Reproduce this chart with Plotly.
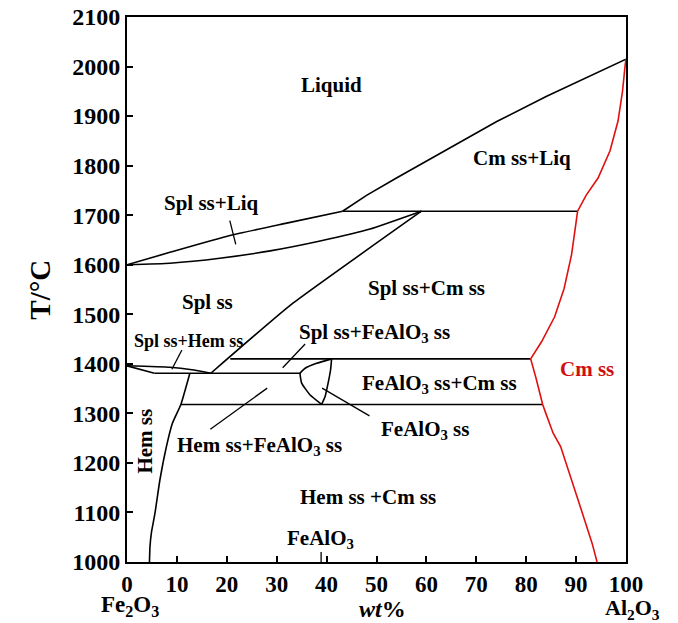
import plotly.graph_objects as go

# ---------------- data (wt% Al2O3, T in °C) ----------------
liq_x = [43.2, 48, 54, 64.1, 74.1, 84.1, 90.8, 100]
liq_T = [1708, 1740, 1775, 1833, 1889, 1940, 1972, 2015]

splliq_up_x = [0, 8.6, 20.6, 32, 43.2]
splliq_up_T = [1600, 1625, 1659, 1684, 1708]
splliq_lo_x = [0, 8.6, 18.6, 28.7, 38.7, 48.7, 59]
splliq_lo_T = [1600, 1603, 1613, 1628, 1648, 1672, 1708]

iso1708_x = [43.2, 90.3]
iso1708_T = [1708, 1708]
iso1410_x = [20.7, 80.9]
iso1410_T = [1410, 1410]
iso1381_x = [5.5, 34.7]
iso1381_T = [1381, 1381]
iso1318_x = [10.8, 83.3]
iso1318_T = [1318, 1318]

splcm_x = [16.8, 32.7, 59]
splcm_T = [1381, 1518, 1708]

lens_up_x = [0, 8.6, 13, 16.8]
lens_up_T = [1396, 1393, 1388, 1381]
lens_lo_x = [0, 5.5]
lens_lo_T = [1396, 1381]

fa_left_x = [41, 38, 35.7, 34.7, 35, 36.7, 39]
fa_left_T = [1410, 1401, 1391, 1381, 1361, 1337, 1318]
fa_right_x = [41, 40.8, 40.3, 39.7, 39]
fa_right_T = [1410, 1388, 1361, 1334, 1318]

hem_x = [12.6, 10.8, 9.1, 7.9, 6.6, 5.6, 4.9, 4.6, 4.5]
hem_T = [1381, 1318, 1280, 1233, 1166, 1098, 1060, 1030, 1000]

cm_x = [100, 99.8, 99.3, 98.4, 96.8, 94.4, 92.0, 90.3, 90.0, 89.1, 87.6, 85.7,
        83.1, 80.9, 82, 83.3, 83.9, 85.4, 86.9, 88.7, 90.2, 91.7, 93.2, 94.2]
cm_T = [2015, 2000, 1950, 1890, 1830, 1775, 1740, 1708, 1686, 1621, 1552, 1495,
        1445, 1410, 1370, 1318, 1301, 1260, 1233, 1179, 1132, 1085, 1038, 1000]

leaders = [
    ([20.6, 21.8], [1689, 1641]),
    ([11, 9], [1428, 1389]),
    ([35.7, 31.2], [1440, 1392]),
    ([28.1, 16.7], [1351, 1268]),
    ([39.1, 48.6], [1351, 1295]),
    ([38.9, 38.9], [1000, 1020]),
]

labels = [
    ("Liquid", 41, 1962, 21, 0, "black"),
    ("Cm ss+Liq", 79.2, 1815, 21, 0, "black"),
    ("Spl ss+Liq", 17, 1725, 21, 0, "black"),
    ("Spl ss", 16.2, 1525, 21, 0, "black"),
    ("Spl ss+Cm ss", 60.1, 1553, 21, 0, "black"),
    ("Spl ss+FeAlO<sub>3</sub> ss", 49.5, 1462, 21, 0, "black"),
    ("Spl ss+Hem ss", 12.4, 1446, 18, 0, "black"),
    ("FeAlO<sub>3</sub> ss+Cm ss", 62.7, 1360, 21, 0, "black"),
    ("Cm ss", 92.2, 1390, 21, 0, "#d01010"),
    ("FeAlO<sub>3</sub> ss", 59.7, 1266, 21, 0, "black"),
    ("Hem ss+FeAlO<sub>3</sub> ss", 26.5, 1234, 21, 0, "black"),
    ("Hem ss", 3.6, 1245, 21, -90, "black"),
    ("Hem ss +Cm ss", 48.3, 1131, 21, 0, "black"),
    ("FeAlO<sub>3</sub>", 38.7, 1046, 21, 0, "black"),
]

x_ticks = [0, 10, 20, 30, 40, 50, 60, 70, 80, 90, 100]
y_ticks = [1000, 1100, 1200, 1300, 1400, 1500, 1600, 1700, 1800, 1900, 2000, 2100]

FONT = "Liberation Serif"
fig = go.Figure()

def line(xs, ys, color="black", width=1.6, smooth=True):
    ln = dict(color=color, width=width)
    if smooth:
        ln.update(shape="spline", smoothing=0.4)
    fig.add_trace(go.Scatter(x=xs, y=ys, mode="lines", line=ln,
                             hoverinfo="skip", showlegend=False))

line(liq_x, liq_T, smooth=False)
for xs, ys in [(splliq_up_x, splliq_up_T), (splliq_lo_x, splliq_lo_T),
               (iso1708_x, iso1708_T), (iso1410_x, iso1410_T), (iso1381_x, iso1381_T),
               (iso1318_x, iso1318_T), (splcm_x, splcm_T), (lens_up_x, lens_up_T),
               (lens_lo_x, lens_lo_T), (fa_left_x, fa_left_T), (fa_right_x, fa_right_T),
               (hem_x, hem_T)]:
    line(xs, ys)
for xs, ys in leaders:
    line(xs, ys, width=1.3, smooth=False)
line(cm_x, cm_T, color="#e01010", width=1.6, smooth=False)

annotations = []
for txt, x, y, size, ang, col in labels:
    annotations.append(dict(x=x, y=y, xref="x", yref="y", text=txt, showarrow=False,
                            textangle=ang, xanchor="center", yanchor="middle",
                            font=dict(family=FONT, size=size, color=col, weight="bold")))

annotations += [
    dict(x=0.006, y=-0.08, xref="paper", yref="paper", text="Fe<sub>2</sub>O<sub>3</sub>",
         showarrow=False, xanchor="center", yanchor="middle",
         font=dict(family=FONT, size=23, color="black", weight="bold")),
    dict(x=0.513, y=-0.086, xref="paper", yref="paper", text="<i>wt</i>%",
         showarrow=False, xanchor="center", yanchor="middle",
         font=dict(family=FONT, size=24, color="black", weight="bold")),
    dict(x=1.014, y=-0.087, xref="paper", yref="paper", text="Al<sub>2</sub>O<sub>3</sub>",
         showarrow=False, xanchor="center", yanchor="middle",
         font=dict(family=FONT, size=22, color="black", weight="bold")),
    dict(x=-0.176, y=0.5, xref="paper", yref="paper", text="T/°C", textangle=-90,
         showarrow=False, xanchor="center", yanchor="middle",
         font=dict(family=FONT, size=29, color="black", weight="bold")),
]

fig.update_layout(
    width=678, height=623,
    margin=dict(l=127, r=52, t=17, b=61, autoexpand=False),
    paper_bgcolor="white", plot_bgcolor="white",
    annotations=annotations,
    xaxis=dict(range=[0, 100], tickvals=x_ticks, ticks="inside", ticklen=6, tickwidth=1.5,
               tickcolor="black", showline=True, linecolor="black", linewidth=2, mirror=True,
               showgrid=False, zeroline=False, automargin=False,
               tickfont=dict(family=FONT, size=23, color="black", weight="bold")),
    yaxis=dict(range=[1000, 2100], tickvals=y_ticks, ticks="inside", ticklen=6, tickwidth=1.5,
               tickcolor="black", showline=True, linecolor="black", linewidth=2, mirror=True,
               showgrid=False, zeroline=False, automargin=False,
               tickfont=dict(family=FONT, size=24, color="black", weight="bold")),
)

fig.write_html("out.html", config={"displayModeBar": False},
               post_script="document.body.style.margin='0';document.body.style.padding='0';")
